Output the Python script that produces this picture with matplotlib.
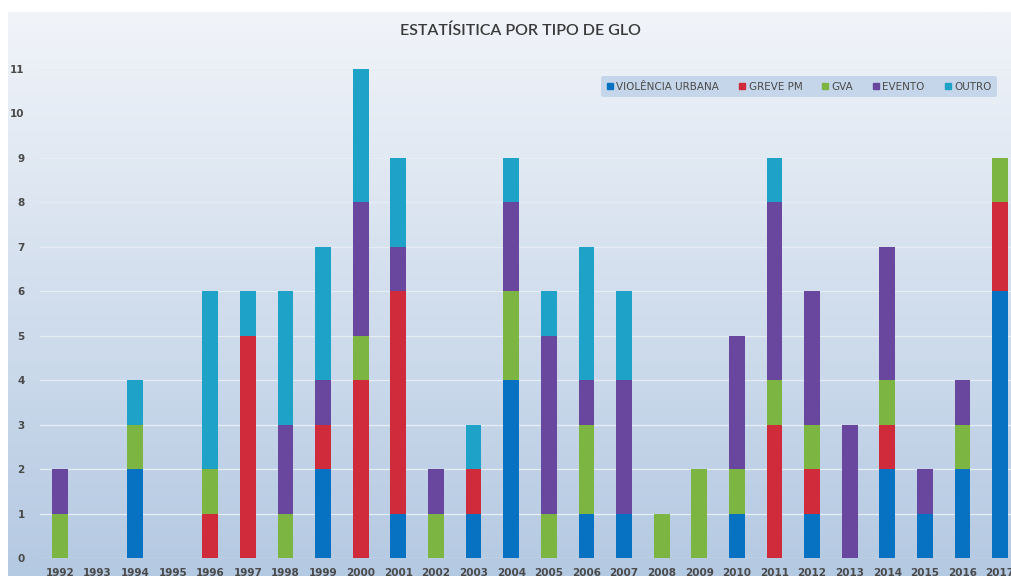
import matplotlib
matplotlib.use("Agg")
import matplotlib.pyplot as plt
import numpy as np
from matplotlib.patches import Patch

years = [str(y) for y in range(1992, 2018)]
violencia_urbana = [0, 0, 2, 0, 0, 0, 0, 2, 0, 1, 0, 1, 4, 0, 1, 1, 0, 0, 1, 0, 1, 0, 2, 1, 2, 6]
greve_pm = [0, 0, 0, 0, 1, 5, 0, 1, 4, 5, 0, 1, 0, 0, 0, 0, 0, 0, 0, 3, 1, 0, 1, 0, 0, 2]
gva = [1, 0, 1, 0, 1, 0, 1, 0, 1, 0, 1, 0, 2, 1, 2, 0, 1, 2, 1, 1, 1, 0, 1, 0, 1, 1]
evento = [1, 0, 0, 0, 0, 0, 2, 1, 3, 1, 1, 0, 2, 4, 1, 3, 0, 0, 3, 4, 3, 3, 3, 1, 1, 0]
outro = [0, 0, 1, 0, 4, 1, 3, 3, 3, 2, 0, 1, 1, 1, 3, 2, 0, 0, 0, 1, 0, 0, 0, 0, 0, 0]

series = [
    ("VIOLÊNCIA URBANA", violencia_urbana, "#0872C2"),
    ("GREVE PM", greve_pm, "#CF2B3B"),
    ("GVA", gva, "#7DB543"),
    ("EVENTO", evento, "#6A479F"),
    ("OUTRO", outro, "#1FA2C8"),
]

W, H = 1011, 576
fig = plt.figure(figsize=(W / 100, H / 100), dpi=100)
fig.patch.set_facecolor("white")

# gradient background panel
bg = fig.add_axes([8 / W, 0, 1, (H - 12) / H])
top = np.array([241, 244, 249]) / 255
bot = np.array([180, 201, 226]) / 255
t = np.linspace(0, 1, 256)[:, None]
grad = top[None, :] * (1 - t) + bot[None, :] * t
bg.imshow(grad[:, None, :], aspect="auto", extent=[0, 1, 0, 1])
bg.set_axis_off()

ax = fig.add_axes([40 / W, (H - 558) / H, 980 / W, (558 - 69) / H])
ax.patch.set_alpha(0)
x = np.arange(len(years))
bottom = np.zeros(len(years))
for name, vals, col in series:
    ax.bar(x, vals, 0.42, bottom=bottom, color=col, label=name, zorder=3)
    bottom += np.array(vals)

ax.set_xlim(-0.53, len(years) - 0.47)
ax.set_ylim(0, 11)
ax.set_yticks(range(0, 12))
ax.set_xticks(x)
ax.set_xticklabels(years)
ax.grid(axis="y", color="#E6EDF5", lw=0.9, zorder=0)
for s in ax.spines.values():
    s.set_visible(False)
ax.tick_params(length=0, labelsize=7.5, colors="#4a4a4a")
ax.tick_params(axis="x", pad=7)
ax.tick_params(axis="y", pad=11)
for lab in ax.get_yticklabels() + ax.get_xticklabels():
    lab.set_fontweight("bold")

fig.text(0.515, 1 - 31 / H, "ESTATÍSITICA POR TIPO DE GLO", ha="center", va="center",
         fontsize=11.5, color="#3a3a3a", family="Lato", fontweight="semibold")

handles = [Patch(color=c, label=n) for n, _, c in series]
leg = ax.legend(handles=handles, ncol=5, loc="upper right",
                bbox_to_anchor=(957 / 980, 1.0 - 7 / 489), borderaxespad=0,
                prop={"size": 7.5}, frameon=True,
                handlelength=0.6, handleheight=0.6,
                handletextpad=0.3, columnspacing=1.9, borderpad=0.55)
leg.get_frame().set_facecolor("#C6D6EA")
leg.get_frame().set_edgecolor("none")
leg.get_frame().set_alpha(1)
for txt in leg.get_texts():
    txt.set_color("#4a4a4a")

fig.savefig("out.png", dpi=100)
